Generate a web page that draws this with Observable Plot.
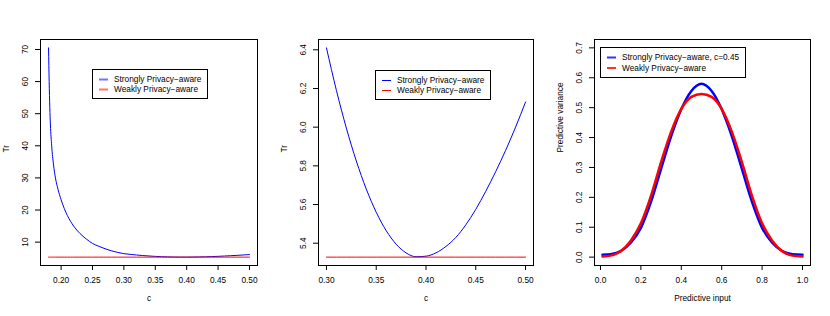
<!DOCTYPE html>
<html><head><meta charset="utf-8">
<script src="https://cdn.jsdelivr.net/npm/d3@7"></script>
<script src="https://cdn.jsdelivr.net/npm/@observablehq/plot@0.6"></script>
<style>
body{margin:0;background:#fff;}
#wrap{position:relative;width:830px;height:316px;font-family:"Liberation Sans",Arial,Helvetica,sans-serif;overflow:hidden;}
.panel{position:absolute;top:0;}
</style></head><body><div id="wrap"></div>
<script>
// ---- Panel 1: Tr vs c (0.18 .. 0.50) ----
const cWide = [0.180,0.181,0.182,0.183,0.185,0.188,0.191,0.195,0.200,0.205,0.210,0.215,0.220,0.230,0.240,0.250,0.260,0.270,0.280,0.290,0.300,
  0.31,0.32,0.33,0.34,0.35,0.36,0.37,0.38,0.39,0.40,0.41,0.42,0.43,0.44,0.45,0.46,0.47,0.48,0.49,0.50];
const trStrongWide = [70.5,60.0,52.0,46.5,40.0,34.0,30.0,26.5,23.2,20.5,18.3,16.5,15.0,12.7,11.0,9.6,8.7,7.95,7.3,6.8,6.41,
  6.19,5.995,5.825,5.68,5.56,5.465,5.395,5.35,5.33,5.333,5.35,5.383,5.43,5.495,5.575,5.668,5.77,5.88,6.00,6.13];
// ---- Panel 2: Tr vs c (0.30 .. 0.50) ----
const cNarrow = [0.30,0.31,0.32,0.33,0.34,0.35,0.36,0.37,0.38,0.39,0.40,0.41,0.42,0.43,0.44,0.45,0.46,0.47,0.48,0.49,0.50];
const trStrongNarrow = [6.41,6.19,5.995,5.825,5.68,5.56,5.465,5.395,5.35,5.33,5.333,5.35,5.383,5.43,5.495,5.575,5.668,5.77,5.88,6.00,6.13];
const trWeak = 5.328;
// ---- Panel 3: predictive variance ----
const inputX = [0.01,0.05,0.10,0.15,0.20,0.25,0.30,0.35,0.40,0.45,0.50,0.55,0.60,0.65,0.70,0.75,0.80,0.85,0.90,0.95,1.00];
const varStrong = [0.008,0.010,0.020,0.048,0.098,0.185,0.295,0.405,0.495,0.556,0.580,0.556,0.495,0.405,0.295,0.185,0.098,0.048,0.020,0.010,0.008];
const varWeak   = [0.002,0.005,0.020,0.055,0.113,0.205,0.318,0.420,0.496,0.536,0.546,0.536,0.496,0.420,0.318,0.205,0.113,0.055,0.020,0.005,0.002];
const varYlim = [0, 0.7];
// ---- ticks ----
const p1XTicks = [0.20,0.25,0.30,0.35,0.40,0.45,0.50];
const p1YTicks = [10,20,30,40,50,60,70];
const p2XTicks = [0.30,0.35,0.40,0.45,0.50];
const p2YTicks = [5.4,5.6,5.8,6.0,6.2,6.4];
const p3XTicks = [0.0,0.2,0.4,0.6,0.8,1.0];
const p3YTicks = [0.0,0.1,0.2,0.3,0.4,0.5,0.6,0.7];
const labStrong = "Strongly Privacy\u2212aware";
const labWeak = "Weakly Privacy\u2212aware";
const labStrong3 = "Strongly Privacy\u2212aware, c=0.45";

const BLUE = "#0000ff", RED = "#ff0000";
const FONT = "Liberation Sans, Arial, Helvetica, sans-serif";
function rDomain(vals){const lo=d3.min(vals),hi=d3.max(vals),r=hi-lo;return [lo-0.04*r,hi+0.04*r];}
const wrap = document.getElementById("wrap");

function panel({left,width,mL,mR,xDomain,yDomain,xTicks,yTicks,xFmt,yFmt,xLabel,yLabel,marks,leg}) {
  const fig = Plot.plot({
    width, height:316, marginLeft:mL, marginRight:mR, marginTop:39, marginBottom:51,
    x:{domain:xDomain, label:null}, y:{domain:yDomain, label:null},
    style:{fontFamily:FONT, fontSize:"8.3px", color:"#000", background:"transparent", overflow:"visible"},
    marks:[
      ...marks,
      Plot.frame({stroke:"#000", strokeWidth:1}),
      Plot.axisX(xTicks,{tickSize:5, tickPadding:6.5, tickFormat:xFmt, stroke:"#000", fill:"#000", label:null}),
      Plot.axisY(yTicks,{tickSize:5, tickPadding:7.5, tickRotate:-90, tickFormat:yFmt, stroke:"#000", fill:"#000", label:null}),
      Plot.text([xLabel],{text:d=>d, frameAnchor:"bottom", dy:35, fill:"#000"}),
      Plot.text([yLabel],{text:d=>d, frameAnchor:"left", dx:-34, rotate:-90, fill:"#000"})
    ]
  });
  fig.classList.add("panel");
  fig.style.left = left + "px";
  wrap.appendChild(fig);
  // legend box (R-style legend inside the plot area)
  const g = d3.select(fig).append("g").attr("transform", `translate(${leg.x},${leg.y})`);
  g.append("rect").attr("x",0.5).attr("y",0.5).attr("width",leg.w).attr("height",leg.h)
    .attr("fill","#fff").attr("stroke","#000").attr("stroke-width",1);
  leg.rows.forEach((r,i)=>{
    const cy = 10.5 + i*leg.gap;
    g.append("line").attr("x1",7).attr("x2",16).attr("y1",cy).attr("y2",cy)
      .attr("stroke",r.color).attr("stroke-width",leg.lw).attr("stroke-opacity",leg.op);
    g.append("text").attr("x",22).attr("y",cy).attr("dy","0.33em")
      .attr("text-anchor","start")
      .attr("font-family",FONT).attr("font-size",leg.fs+"px").attr("fill","#000").text(r.label);
  });
}

const fmt2 = d3.format(".2f"), fmt1 = d3.format(".1f"), fmt0 = d3.format("d");
const wide = cWide.map((c,i)=>({c, tr:trStrongWide[i], weak:trWeak}));
const narrow = cNarrow.map((c,i)=>({c, tr:trStrongNarrow[i], weak:trWeak}));
const pv = inputX.map((x,i)=>({x, s:varStrong[i], w:varWeak[i]}));

panel({left:0, width:277, mL:40, mR:20,
  xDomain:rDomain(cWide), yDomain:rDomain([...trStrongWide, trWeak]),
  xTicks:p1XTicks, yTicks:p1YTicks, xFmt:fmt2, yFmt:fmt0, xLabel:"c", yLabel:"Tr",
  marks:[
    Plot.line(wide,{x:"c", y:"tr", stroke:BLUE, strokeWidth:1, curve:"monotone-x"}),
    Plot.line(wide,{x:"c", y:"weak", stroke:RED, strokeWidth:1})
  ],
  leg:{x:92, y:69, w:115, h:29, gap:10, lw:2, op:0.55, fs:8.3, rows:[{color:BLUE,label:labStrong},{color:RED,label:labWeak}]}});
panel({left:277, width:277, mL:41, mR:21,
  xDomain:rDomain(cNarrow), yDomain:rDomain([...trStrongNarrow, trWeak]),
  xTicks:p2XTicks, yTicks:p2YTicks, xFmt:fmt2, yFmt:fmt1, xLabel:"c", yLabel:"Tr",
  marks:[
    Plot.line(narrow,{x:"c", y:"tr", stroke:BLUE, strokeWidth:1, curve:"monotone-x"}),
    Plot.line(narrow,{x:"c", y:"weak", stroke:RED, strokeWidth:1})
  ],
  leg:{x:98, y:70, w:115, h:29, gap:10, lw:1, op:1, fs:8.3, rows:[{color:BLUE,label:labStrong},{color:RED,label:labWeak}]}});
panel({left:554, width:276, mL:40, mR:20,
  xDomain:rDomain(inputX), yDomain:rDomain(varYlim),
  xTicks:p3XTicks, yTicks:p3YTicks, xFmt:fmt1, yFmt:fmt1, xLabel:"Predictive input", yLabel:"Predictive variance",
  marks:[
    Plot.line(pv,{x:"x", y:"s", stroke:BLUE, strokeWidth:2.5, curve:"monotone-x"}),
    Plot.line(pv,{x:"x", y:"w", stroke:RED, strokeWidth:2.5, curve:"monotone-x"})
  ],
  leg:{x:46, y:47, w:145, h:30, gap:10.5, lw:2, op:0.8, fs:8.3, rows:[{color:BLUE,label:labStrong3},{color:RED,label:labWeak}]}});
</script>
</body></html>
